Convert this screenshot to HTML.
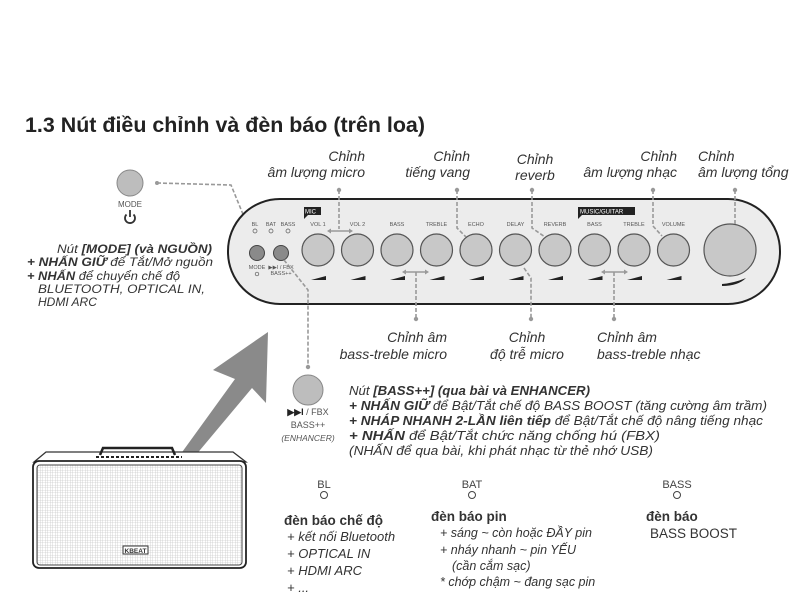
<!DOCTYPE html>
<html><head><meta charset="utf-8"><style>
html,body{margin:0;padding:0;background:#fff;}
svg{display:block;}
text{font-family:"Liberation Sans",sans-serif;fill:#333;}
.i{font-style:italic;}
.b{font-weight:bold;}
.d{stroke:#999;stroke-width:1.6;stroke-dasharray:4 2;fill:none;}
.k{fill:#c8c8c8;stroke:#555;stroke-width:1.2;}
.s{font-size:5.5px;fill:#555;}
</style></head><body>
<svg width="800" height="600" viewBox="0 0 800 600" xmlns="http://www.w3.org/2000/svg">
<text x="25" y="132" class="b" font-size="21" textLength="400" lengthAdjust="spacingAndGlyphs" style="fill:#222">1.3 Nút điều chỉnh và đèn báo (trên loa)</text>

<!-- MODE button left -->
<circle cx="130" cy="183" r="13" fill="#bdbdbd" stroke="#888"/>
<text x="130" y="207" font-size="8" text-anchor="middle" style="fill:#555">MODE</text>
<path d="M126.5 214.5 A5 5 0 1 0 133.5 214.5" stroke="#333" stroke-width="1.8" fill="none"/>
<line x1="130" y1="210" x2="130" y2="217" stroke="#333" stroke-width="1.8"/>
<circle cx="157" cy="183" r="2" fill="#999"/>
<path class="d" d="M157 183 L231 185 L256 246"/>

<g font-size="12">
<text x="57" y="253" class="i" textLength="155" lengthAdjust="spacingAndGlyphs">Nút <tspan class="b">[MODE] (và NGUỒN)</tspan></text>
<text x="27" y="266" class="i" textLength="186" lengthAdjust="spacingAndGlyphs"><tspan class="b">+ NHẤN GIỮ</tspan> để Tắt/Mở nguồn</text>
<text x="27" y="280" class="i" textLength="153" lengthAdjust="spacingAndGlyphs"><tspan class="b">+ NHẤN</tspan> để chuyển chế độ</text>
<text x="38" y="293" class="i" textLength="167" lengthAdjust="spacingAndGlyphs">BLUETOOTH, OPTICAL IN,</text>
<text x="38" y="306" class="i">HDMI ARC</text>
</g>

<!-- Panel -->
<rect x="228" y="199" width="552" height="105" rx="52" fill="#ececec" stroke="#222" stroke-width="2"/>
<rect x="304" y="207" width="17" height="8" fill="#222"/>
<path d="M304 215 L304 219 L308 215 Z" fill="#222"/>
<text x="305" y="213.5" font-size="6" style="fill:#fff">MIC</text>
<rect x="578" y="207" width="57" height="8" fill="#222"/>
<path d="M578 215 L578 219 L582 215 Z" fill="#222"/>
<text x="580" y="213.5" font-size="6" style="fill:#fff">MUSIC/GUITAR</text>

<text x="255" y="226" class="s" text-anchor="middle">BL</text>
<text x="271" y="226" class="s" text-anchor="middle">BAT</text>
<text x="288" y="226" class="s" text-anchor="middle">BASS</text>
<circle cx="255" cy="231" r="2" fill="none" stroke="#555" stroke-width=".7"/>
<circle cx="271" cy="231" r="2" fill="none" stroke="#555" stroke-width=".7"/>
<circle cx="288" cy="231" r="2" fill="none" stroke="#555" stroke-width=".7"/>
<circle cx="257" cy="253" r="7.5" fill="#8a8a8a" stroke="#444"/>
<circle cx="281" cy="253" r="7.5" fill="#8a8a8a" stroke="#444"/>
<text x="257" y="269" class="s" text-anchor="middle">MODE</text>
<circle cx="257" cy="274" r="1.8" fill="none" stroke="#555" stroke-width=".7"/>
<text x="281" y="269" class="s" text-anchor="middle">▶▶I / FBX</text>
<text x="281" y="275" class="s" text-anchor="middle">BASS++</text>

<g text-anchor="middle">
<text x="318" y="226" class="s">VOL 1</text>
<text x="357.5" y="226" class="s">VOL 2</text>
<text x="397" y="226" class="s">BASS</text>
<text x="436.5" y="226" class="s">TREBLE</text>
<text x="476" y="226" class="s">ECHO</text>
<text x="515.5" y="226" class="s">DELAY</text>
<text x="555" y="226" class="s">REVERB</text>
<text x="594.5" y="226" class="s">BASS</text>
<text x="634" y="226" class="s">TREBLE</text>
<text x="673.5" y="226" class="s">VOLUME</text>
</g>
<g>
<circle cx="318" cy="250" r="16" class="k"/><circle cx="357.5" cy="250" r="16" class="k"/>
<circle cx="397" cy="250" r="16" class="k"/><circle cx="436.5" cy="250" r="16" class="k"/>
<circle cx="476" cy="250" r="16" class="k"/><circle cx="515.5" cy="250" r="16" class="k"/>
<circle cx="555" cy="250" r="16" class="k"/><circle cx="594.5" cy="250" r="16" class="k"/>
<circle cx="634" cy="250" r="16" class="k"/><circle cx="673.5" cy="250" r="16" class="k"/>
<circle cx="730" cy="250" r="26" class="k"/>
</g>
<g fill="#222">
<path d="M311 280 L326 280 L326 276 Z"/><path d="M350.5 280 L365.5 280 L365.5 276 Z"/>
<path d="M390 280 L405 280 L405 276 Z"/><path d="M429.5 280 L444.5 280 L444.5 276 Z"/>
<path d="M469 280 L484 280 L484 276 Z"/><path d="M508.5 280 L523.5 280 L523.5 276 Z"/>
<path d="M548 280 L563 280 L563 276 Z"/><path d="M587.5 280 L602.5 280 L602.5 276 Z"/>
<path d="M627 280 L642 280 L642 276 Z"/><path d="M666.5 280 L681.5 280 L681.5 276 Z"/>
<path d="M722 284 Q734 283 746 278 Q738 286 722 286 Z"/>
</g>

<!-- top labels -->
<g font-size="14">
<text x="365" y="161" text-anchor="end" class="i">Chỉnh</text>
<text x="365" y="177" text-anchor="end" class="i">âm lượng micro</text>
<text x="470" y="161" text-anchor="end" class="i">Chỉnh</text>
<text x="470" y="177" text-anchor="end" class="i">tiếng vang</text>
<text x="535" y="164" text-anchor="middle" class="i">Chỉnh</text>
<text x="535" y="180" text-anchor="middle" class="i">reverb</text>
<text x="677" y="161" text-anchor="end" class="i">Chỉnh</text>
<text x="677" y="177" text-anchor="end" class="i">âm lượng nhạc</text>
<text x="698" y="161" class="i">Chỉnh</text>
<text x="698" y="177" class="i">âm lượng tổng</text>
</g>
<g fill="#999">
<circle cx="339" cy="190" r="2.2"/><circle cx="457" cy="190" r="2.2"/>
<circle cx="532" cy="190" r="2.2"/><circle cx="653" cy="190" r="2.2"/>
<circle cx="735" cy="190" r="2.2"/>
</g>
<path class="d" d="M339 190 V229"/>
<path class="d" d="M457 190 V228 L466 237"/>
<path class="d" d="M532 190 V228 L545 237"/>
<path class="d" d="M653 190 V226 L662 236"/>
<path class="d" d="M735 190 V224"/>
<g stroke="#999" stroke-width="1.5" fill="#999">
<line x1="330" y1="231" x2="350" y2="231"/><path d="M327 231 l4 -2.5 v5 Z M353 231 l-4 -2.5 v5 Z" stroke="none"/>
<line x1="405" y1="272" x2="426" y2="272"/><path d="M402 272 l4 -2.5 v5 Z M429 272 l-4 -2.5 v5 Z" stroke="none"/>
<line x1="604" y1="272" x2="625" y2="272"/><path d="M601 272 l4 -2.5 v5 Z M628 272 l-4 -2.5 v5 Z" stroke="none"/>
</g>
<!-- lower connectors -->
<path class="d" d="M416 272 V318"/>
<path class="d" d="M524 268 L531 278 V318"/>
<path class="d" d="M614 272 V318"/>
<path class="d" d="M284 260 L308 290 V366"/>
<g fill="#999"><circle cx="416" cy="319" r="2.2"/><circle cx="531" cy="319" r="2.2"/><circle cx="614" cy="319" r="2.2"/><circle cx="308" cy="367" r="2.2"/></g>

<g font-size="14">
<text x="447" y="342" text-anchor="end" class="i">Chỉnh âm</text>
<text x="447" y="359" text-anchor="end" class="i">bass-treble micro</text>
<text x="527" y="342" text-anchor="middle" class="i">Chỉnh</text>
<text x="527" y="359" text-anchor="middle" class="i">độ trễ micro</text>
<text x="597" y="342" class="i">Chỉnh âm</text>
<text x="597" y="359" class="i">bass-treble nhạc</text>
</g>

<!-- FBX -->
<circle cx="308" cy="390" r="15" fill="#bdbdbd" stroke="#888"/>
<text x="308" y="415" font-size="9" text-anchor="middle" style="fill:#555"><tspan class="b" style="fill:#222">▶▶I</tspan> / FBX</text>
<text x="308" y="428" font-size="9" text-anchor="middle" style="fill:#555">BASS++</text>
<text x="308" y="441" font-size="8.5" text-anchor="middle" class="i" style="fill:#555">(ENHANCER)</text>
<g font-size="12.5">
<text x="349" y="395" class="i" textLength="241" lengthAdjust="spacingAndGlyphs">Nút <tspan class="b">[BASS++] (qua bài và ENHANCER)</tspan></text>
<text x="349" y="410" class="i" textLength="418" lengthAdjust="spacingAndGlyphs"><tspan class="b">+ NHẤN GIỮ</tspan> để Bật/Tắt chế độ BASS BOOST (tăng cường âm trầm)</text>
<text x="349" y="425" class="i" textLength="414" lengthAdjust="spacingAndGlyphs"><tspan class="b">+ NHÁP NHANH 2-LẦN liên tiếp</tspan> để Bật/Tắt chế độ nâng tiếng nhạc</text>
<text x="349" y="440" class="i" textLength="311" lengthAdjust="spacingAndGlyphs"><tspan class="b">+ NHẤN</tspan> để Bật/Tắt chức năng chống hú (FBX)</text>
<text x="349" y="455" class="i" textLength="304" lengthAdjust="spacingAndGlyphs">(NHẤN để qua bài, khi phát nhạc từ thẻ nhớ USB)</text>
</g>

<!-- big arrow -->
<path d="M180 455 L235 379 L213 370 L268 332 L266 403 L252 388 L190 462 Z" fill="#8a8a8a"/>

<!-- speaker -->
<path d="M34 462 L46 452 L233 452 L246 462 Z" fill="#fff" stroke="#333" stroke-width="1.3"/>
<path d="M100 455 L103 448 L172 448 L175 455" fill="none" stroke="#222" stroke-width="2.5"/>
<line x1="96" y1="457" x2="182" y2="457" stroke="#222" stroke-width="2" stroke-dasharray="3 2"/>
<rect x="33" y="461" width="213" height="107" rx="6" fill="#fff" stroke="#222" stroke-width="1.8"/>
<defs><pattern id="g" width="2.5" height="2.5" patternUnits="userSpaceOnUse"><path d="M0 0 H2.5 M0 0 V2.5" stroke="#bbb" stroke-width=".6"/></pattern></defs>
<rect x="37" y="465" width="205" height="100" rx="3" fill="url(#g)" stroke="#444"/>
<rect x="123" y="546" width="25" height="8" fill="#fff" stroke="#333"/>
<text x="135.5" y="553" font-size="6.5" text-anchor="middle" class="b">KBEAT</text>

<!-- indicators -->
<g font-size="11">
<text x="324" y="488" text-anchor="middle" style="fill:#444">BL</text>
<text x="472" y="488" text-anchor="middle" style="fill:#444">BAT</text>
<text x="677" y="488" text-anchor="middle" style="fill:#444">BASS</text>
</g>
<g fill="none" stroke="#444"><circle cx="324" cy="495" r="3.5"/><circle cx="472" cy="495" r="3.5"/><circle cx="677" cy="495" r="3.5"/></g>
<text x="284" y="525" font-size="13.5" class="b">đèn báo chế độ</text>
<g font-size="13">
<text x="287" y="541" class="i">+ kết nối Bluetooth</text>
<text x="287" y="558" class="i">+ OPTICAL IN</text>
<text x="287" y="575" class="i">+ HDMI ARC</text>
<text x="287" y="592" class="i">+ ...</text>
</g>
<text x="431" y="521" font-size="13.5" class="b">đèn báo pin</text>
<g font-size="12.5">
<text x="440" y="537" class="i">+ sáng ~ còn hoặc ĐẦY pin</text>
<text x="440" y="554" class="i">+ nháy nhanh ~ pin YẾU</text>
<text x="452" y="570" class="i">(cần cắm sạc)</text>
<text x="440" y="586" class="i">* chớp chậm ~ đang sạc pin</text>
</g>
<text x="646" y="521" font-size="13.5" class="b">đèn báo</text>
<text x="650" y="538" font-size="13.5">BASS BOOST</text>
</svg>
</body></html>
